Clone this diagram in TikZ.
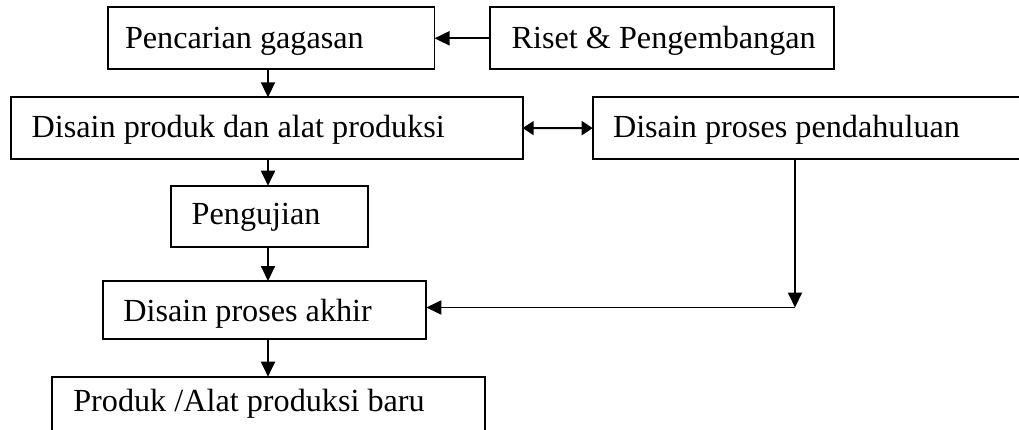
\documentclass[tikz,border=0pt]{standalone}
\usepackage{fontspec}
\setmainfont{Liberation Serif}
\usetikzlibrary{arrows.meta}
\begin{document}
\begin{tikzpicture}[x=1pt,y=-1pt,
  box/.style={draw, line width=1.9pt, anchor=north west, inner sep=0pt, outer sep=0pt},
  lbl/.style={anchor=base west, inner sep=0pt, outer sep=0pt, font=\fontsize{32.2}{38}\selectfont},
  conn/.style={line width=1.9pt, -{Triangle[length=15pt,width=14pt]}},
  dconn/.style={line width=1.9pt, {Triangle[length=11pt,width=14pt]}-{Triangle[length=11pt,width=14pt]}}]
\useasboundingbox (0,0) rectangle (1019,430);
\fill[white] (0,0) rectangle (1019,430);
\clip (0,0) rectangle (1019,430);
% boxes
\node[box, minimum width=326.8pt, minimum height=62pt] (pencarian) at (107.7,7.3) {};
\node[box, minimum width=344pt, minimum height=62pt] (riset) at (490,7.3) {};
\node[box, minimum width=511.7pt, minimum height=61.5pt] (produk) at (11,97.3) {};
\node[box, minimum width=440pt, minimum height=61.7pt] (pendahuluan) at (592.7,97.3) {};
\node[box, minimum width=197.6pt, minimum height=61.6pt] (pengujian) at (170.7,185.7) {};
\node[box, minimum width=323pt, minimum height=58.3pt] (akhir) at (103.3,281) {};
\node[box, minimum width=432.7pt, minimum height=70pt] (baru) at (52.3,376.7) {};
% texts
\node[lbl] (tpencarian) at (125,48.3) {Pencarian gagasan};
\node[lbl] (triset) at (511.7,48.3) {Riset \& Pengembangan};
\node[lbl] (tproduk) at (31.7,138) {Disain produk dan alat produksi};
\node[lbl] (tpendahuluan) at (613,137.5) {Disain proses pendahuluan};
\node[lbl] (tpengujian) at (191.7,225) {Pengujian};
\node[lbl] (takhir) at (123.3,321.7) {Disain proses akhir};
\begin{scope}
\clip (0,0) rectangle (1019,418);
\node[lbl] (tbaru) at (73.3,411.7) {Produk /Alat produksi baru};
\end{scope}
% connectors
\coordinate (colx) at (268,0);
\coordinate (corner) at (795,307.5);
\draw[conn] (riset.west) -- (pencarian.east);
\draw[conn] (pencarian.south -| colx) -- (produk.north -| colx);
\draw[dconn] (produk.east) -- (pendahuluan.west);
\draw[conn] (produk.south -| colx) -- (pengujian.north -| colx);
\draw[conn] (pengujian.south -| colx) -- (akhir.north -| colx);
\draw[conn] (akhir.south -| colx) -- (baru.north -| colx);
\draw[conn] (pendahuluan.south -| corner) -- (corner);
\draw[conn] (corner) -- (akhir.east |- corner);
\end{tikzpicture}
\end{document}
